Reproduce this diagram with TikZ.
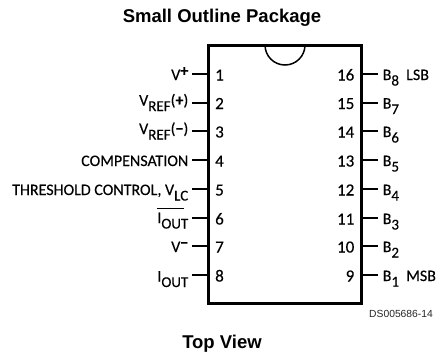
\documentclass[tikz,border=0pt]{standalone}
\usepackage{fontspec}
\setmainfont[FakeBold=0.25]{Carlito}
\newfontfamily\titlefont{Liberation Sans}
\newcommand{\subs}[1]{\raisebox{-5.5pt}{\fontsize{15}{15}\selectfont #1}}
\tikzset{
  x=1pt,y=-1pt,
  pinline/.style={line width=2pt},
  body/.style={line width=3pt,line join=miter},
  lbl/.style={font=\fontsize{16}{16}\selectfont,inner sep=0pt,anchor=base east},
  rlbl/.style={font=\fontsize{16}{16}\selectfont,inner sep=0pt,anchor=base west},
  num/.style={font=\fontsize{17}{17}\selectfont,inner sep=0pt,anchor=base},
  ttl/.style={font=\titlefont\bfseries\fontsize{18.5}{18.5}\selectfont,inner sep=0pt,anchor=base},
  dsn/.style={font=\titlefont\fontsize{10.3}{10.3}\selectfont,inner sep=0pt,anchor=base east,text=black!85}
}
\begin{document}
\begin{tikzpicture}
\useasboundingbox (0,0) rectangle (436,351);
\fill[white] (0,0) rectangle (436,351);
\node[ttl] (title) at (222,22) {Small Outline Package};
\node[ttl] (view) at (222,348) {Top View};
\node[dsn] (ds) at (433,317) {DS005686-14};
% body
\coordinate (tl) at (208,45);
\coordinate (tr) at (361,45);
\coordinate (br) at (361,303);
\coordinate (bl) at (208,303);
\draw[body] (tl) -- (tr) -- (br) -- (bl) -- cycle;
\draw[line width=1.5pt] (265,45) arc[start angle=180,end angle=0,radius=20];
% left pins
\foreach \n/\y/\o/\t in {
 1/74/6/{V\raisebox{4pt}{\textbf{+}}},
 2/102.5/3/{V\subs{REF}(\textbf{+})},
 3/131/3/{V\subs{REF}(\textbf{−})},
 4/160/6/{COMPENSATION},
 5/189/6/{THRESHOLD CONTROL, V\subs{LC}},
 6/218/5/{\rlap{\raisebox{14pt}{\rule{27pt}{0.8pt}}}I\subs{OUT}},
 7/246/6/{V\raisebox{4pt}{\textbf{−}}},
 8/275/6.5/{I\subs{OUT}}}{
  \coordinate (ls\n) at (192,\y);
  \coordinate (le\n) at (208,\y);
  \draw[pinline] (ls\n) -- (le\n);
  \node[lbl] (ll\n) at (188.5,\y+\o) {\t};
  \node[num,anchor=base west] (ln\n) at (215,\y+6.5) {\n};
}
% right pins
\foreach \n/\y/\t in {
 16/74/{\rlap{\hspace{23.5pt}LSB}B\subs{8}},
 15/102.5/{B\subs{7}},
 14/131/{B\subs{6}},
 13/160/{B\subs{5}},
 12/189/{B\subs{4}},
 11/218/{B\subs{3}},
 10/246/{B\subs{2}},
 9/275/{\rlap{\hspace{23.5pt}MSB}B\subs{1}}}{
  \coordinate (rs\n) at (361,\y);
  \coordinate (re\n) at (378,\y);
  \draw[pinline] (rs\n) -- (re\n);
  \node[rlbl] (rl\n) at (382.5,\y+6) {\t};
  \node[num,anchor=base east] (rn\n) at (354.5,\y+6.5) {\n};
}
\end{tikzpicture}
\end{document}
